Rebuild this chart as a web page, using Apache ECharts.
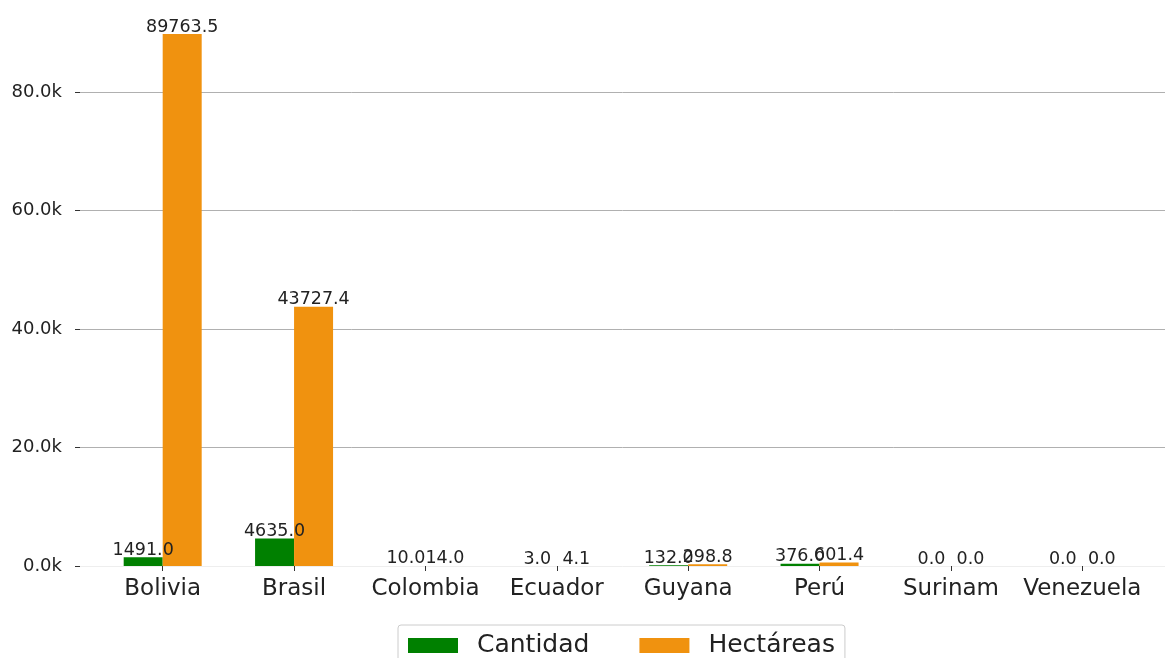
<!DOCTYPE html>
<html>
<head>
	<meta charset="UTF-8">
	<title>Cantidad y Hectáreas por país</title>
	<script src="https://cdn.jsdelivr.net/npm/echarts@6/dist/echarts.min.js"></script>
	<style>
		html, body { margin: 0; padding: 0; background: #fff; }
		#chart { width: 1165px; height: 658px; }
	</style>
</head>
<body>
<div id="chart"></div>
<script type="text/javascript">
	// datos
	var paises = ['Bolivia', 'Brasil', 'Colombia', 'Ecuador', 'Guyana', 'Perú', 'Surinam', 'Venezuela'];
	var cantidad = [1491.0, 4635.0, 10.0, 3.0, 132.0, 376.0, 0.0, 0.0];
	var hectareas = [89763.5, 43727.4, 14.0, 4.1, 298.8, 601.4, 0.0, 0.0];
	var yTicks = [0, 20000, 40000, 60000, 80000];

	var fuente = 'DejaVu Sans';
	var yMax = 95500;

	var chart = echarts.init(document.getElementById('chart'));

	var etiqueta = {
		show: true,
		position: 'top',
		distance: -2,
		fontFamily: fuente,
		fontSize: 17.5,
		color: '#222',
		formatter: function (p) { return p.value.toFixed(1); }
	};

	var option = {
		animation: false,
		backgroundColor: '#fff',
		grid: [
			// rejilla de fondo (lineas y eje y)
			{ left: 80, right: 0, top: 0, bottom: 92 },
			// barras
			{ left: 97, right: 17, top: 0, bottom: 92 }
		],
		legend: {
			left: 398,
			top: 625,
			orient: 'horizontal',
			itemWidth: 50,
			itemHeight: 15,
			itemGap: 50,
			padding: [8, 10, 8, 10],
			borderColor: '#cccccc',
			borderWidth: 1,
			borderRadius: 3,
			icon: 'rect',
			textStyle: { fontFamily: fuente, fontSize: 25, color: '#222', padding: [0, 0, 0, 14] },
			data: ['Cantidad', 'Hectáreas']
		},
		xAxis: [
			{
				gridIndex: 0, type: 'value', min: 0, max: 1,
				axisLine: { show: true, lineStyle: { color: '#eeeeee' } },
				axisTick: { show: false }, axisLabel: { show: false }, splitLine: { show: false }
			},
			{
				gridIndex: 1, type: 'category', data: paises,
				axisLine: { show: false },
				axisTick: { show: true, interval: 0, alignWithLabel: true, length: 5, lineStyle: { color: '#333' } },
				axisLabel: { interval: 0, fontFamily: fuente, fontSize: 23, color: '#222', margin: 12 }
			}
		],
		yAxis: [
			{
				gridIndex: 0, type: 'value', min: 0, max: yMax, interval: 20000,
				axisLine: { show: false },
				axisTick: { show: true, length: 5, lineStyle: { color: '#333' } },
				axisLabel: {
					fontFamily: fuente, fontSize: 18, color: '#222', margin: 18,
					showMaxLabel: false,
					formatter: function (v) { return yTicks.indexOf(v) >= 0 ? (v / 1000).toFixed(1) + 'k' : ''; }
				},
				splitLine: { show: true, showMinLine: false, showMaxLine: false, lineStyle: { color: '#b0b0b0', width: 1 } }
			},
			{
				gridIndex: 1, type: 'value', min: 0, max: yMax,
				show: false, splitLine: { show: false }
			}
		],
		series: [
			{
				name: 'Cantidad', type: 'bar', xAxisIndex: 1, yAxisIndex: 1,
				data: cantidad, barWidth: 39, barGap: '0%',
				itemStyle: { color: '#008000' },
				label: etiqueta
			},
			{
				name: 'Hectáreas', type: 'bar', xAxisIndex: 1, yAxisIndex: 1,
				data: hectareas, barWidth: 39, barGap: '0%',
				itemStyle: { color: '#f0920f' },
				label: etiqueta
			}
		]
	};

	chart.setOption(option);
</script>
</body>
</html>
